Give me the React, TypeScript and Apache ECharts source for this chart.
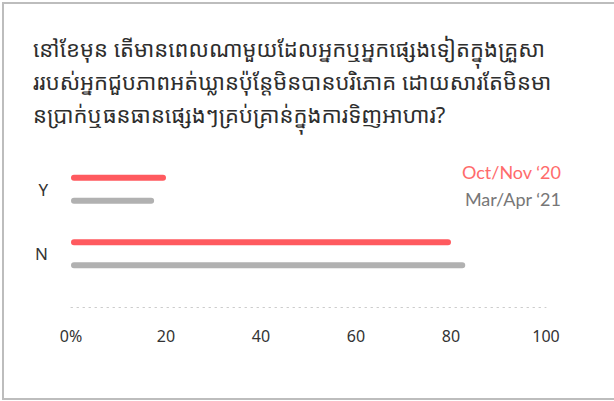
import React, { useEffect, useRef } from "react";
import * as echarts from "echarts";

const titleLines = [
  "នៅខែមុន តើមានពេលណាមួយដែលអ្នកឬអ្នកផ្សេងទៀតក្នុងគ្រួសា",
  "ររបស់អ្នកជួបភាពអត់ឃ្លានប៉ុន្តែមិនបានបរិភោគ ដោយសារតែមិនមា",
  "នប្រាក់ឬធនធានផ្សេងៗគ្រប់គ្រាន់ក្នុងការទិញអាហារ?",
];
const categories = ["Y", "N"];
const seriesNames = ["Oct/Nov ‘20", "Mar/Apr ‘21"];
const octNov20 = [20, 80];
const marApr21 = [17.5, 83];
const xTicks = [0, 20, 40, 60, 80, 100];

const RED = "#ff5a5f";
const GRAY = "#b1b1b1";

export default function App() {
  const ref = useRef<HTMLDivElement>(null);
  useEffect(() => {
    if (!ref.current) return;
    const chart = echarts.init(ref.current, null, { renderer: "svg" });
    chart.setOption({
      animation: false,
      backgroundColor: "#ffffff",
      title: {
        text: titleLines.join("\n"),
        left: 28,
        top: 26,
        textStyle: {
          fontSize: 22,
          lineHeight: 33,
          fontWeight: "normal",
          color: "#2e2e2e",
          fontFamily: "'Noto Sans Khmer', 'Khmer OS', 'Noto Sans', sans-serif",
        },
      },
      legend: {
        orient: "vertical",
        right: 43,
        top: 157,
        icon: "none",
        itemWidth: 0,
        itemHeight: 0,
        itemGap: 7,
        align: "right",
        selectedMode: false,
        textStyle: { fontSize: 18, lineHeight: 20, fontFamily: "Lato, 'Noto Sans', sans-serif" },
        data: [
          { name: seriesNames[0], textStyle: { color: "#ff6b6b" } },
          { name: seriesNames[1], textStyle: { color: "#777777" } },
        ],
      },
      grid: { left: 71, right: 68, top: 157, bottom: 115, containLabel: false },
      xAxis: {
        type: "value",
        min: 0,
        max: 100,
        interval: 20,
        offset: 21,
        axisLine: { show: true, lineStyle: { color: "#cccccc", width: 1, type: [1.5, 4.5] } },
        axisTick: { show: false },
        splitLine: { show: false },
        axisLabel: {
          margin: 21,
          fontSize: 16,
          color: "#333333",
          fontFamily: "'Noto Sans', sans-serif",
          formatter: (v: number) => (v === xTicks[0] ? v + "%" : String(v)),
        },
      },
      yAxis: {
        type: "category",
        data: categories,
        inverse: true,
        axisLine: { show: false },
        axisTick: { show: false },
        axisLabel: {
          margin: 23,
          fontSize: 17,
          color: "#333333",
          fontFamily: "'Noto Sans', sans-serif",
        },
      },
      series: [
        {
          name: seriesNames[0],
          type: "bar",
          data: octNov20,
          barWidth: 6,
          barGap: "283%",
          itemStyle: { color: RED, borderRadius: 3 },
        },
        {
          name: seriesNames[1],
          type: "bar",
          data: marApr21,
          barWidth: 6,
          itemStyle: { color: GRAY, borderRadius: 3 },
        },
      ],
      graphic: [
        {
          type: "rect",
          shape: { x: 3, y: 3, width: 640, height: 396 },
          style: { fill: "none", stroke: "#bdbdbd", lineWidth: 2 },
          silent: true,
        },
      ],
    });
    return () => chart.dispose();
  }, []);
  return (
    <div
      ref={ref}
      style={{ position: "fixed", left: 0, top: 0, width: 614, height: 401 }}
    />
  );
}
